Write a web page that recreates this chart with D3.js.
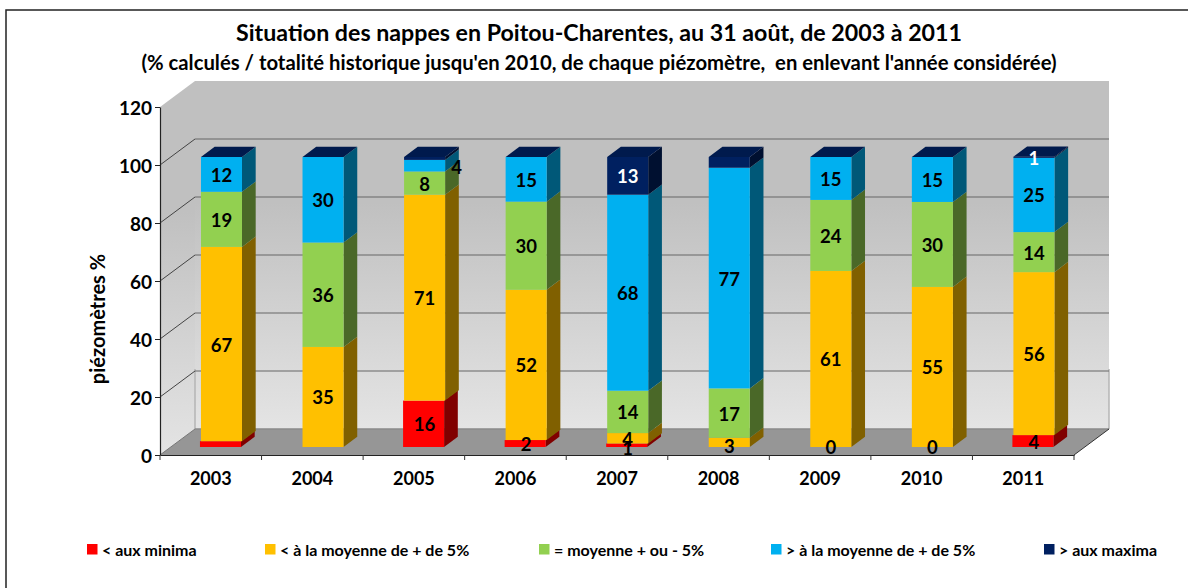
<!DOCTYPE html>
<html>
<head>
<meta charset="utf-8">
<script src="https://cdn.jsdelivr.net/npm/d3@7"></script>
<style>
  body { margin: 0; background: #fff; }
  text { font-family: Lato, "Open Sans", sans-serif; font-weight: 700; fill: #000; white-space: pre; }
</style>
</head>
<body>
<svg width="1188" height="588"></svg>
<script>
// **** data ****
const years = ['2003', '2004', '2005', '2006', '2007', '2008', '2009', '2010', '2011'];
const yTicks = [0, 20, 40, 60, 80, 100, 120];

const minima = [2, 0, 16, 2.4, 1.2, 0, 0, 0, 4.1];
const belowAvg = [67, 34.5, 71, 51.8, 3.6, 3.2, 60.7, 55.2, 56.2];
const nearAvg = [19, 36, 8, 30.4, 14.6, 17, 24.5, 29.3, 13.8];
const aboveAvg = [12, 29.5, 4, 15.4, 67.6, 76.1, 14.8, 15.5, 25.6];
const maxima = [0, 0, 1, 0, 13, 3.7, 0, 0, 0.4];

// labels shown on the bars, null = no label in the original
const minimaLabels = [null, null, 16, 2, 1, null, 0, 0, 4];
const belowLabels = [67, 35, 71, 52, 4, 3, 61, 55, 56];
const nearLabels = [19, 36, 8, 30, 14, 17, 24, 30, 14];
const aboveLabels = [12, 30, 4, 15, 68, 77, 15, 15, 25];
const maximaLabels = [null, null, null, null, 13, null, null, null, 1];

const seriesNames = ['< aux minima', '< à la moyenne de + de 5%', '= moyenne + ou - 5%', '> à la moyenne de + de 5%', '> aux maxima'];
const seriesValues = [minima, belowAvg, nearAvg, aboveAvg, maxima];
const seriesLabels = [minimaLabels, belowLabels, nearLabels, aboveLabels, maximaLabels];
const frontColors = ['#ff0000', '#ffc000', '#92d050', '#00b0f0', '#002060'];
const sideColors = ['#800000', '#806000', '#4a6828', '#005878', '#001030'];
const labelColors = ['#000', '#000', '#000', '#000', '#fff'];

// **** scales ****
const svg = d3.select('svg');

const xScale = d3.scaleBand().domain(years).range([160, 1074]).paddingInner(0.596).paddingOuter(0.298);
const yScale = d3.scaleLinear().domain([0, 120]).range([455, 107]);

// 3D offsets
const wallDx = 35, wallDy = 26;       // from axis plane to back wall
const barDx = 10.7, barDy = 8;        // from axis plane to front of the bars
const sideDx = 13.7, sideDy = 10.3;   // depth of a bar

// **** frame, walls and floor ****
svg.append('rect').attr('x', 6).attr('y', 10).attr('width', 1300).attr('height', 700)
    .attr('fill', '#fff').attr('stroke', '#222').attr('stroke-width', 1.5);

const defs = svg.append('defs');
const wallGrad = defs.append('linearGradient').attr('id', 'wall').attr('x1', 0).attr('y1', 0).attr('x2', 0).attr('y2', 1);
wallGrad.append('stop').attr('offset', '0%').attr('stop-color', '#c0c0c0');
wallGrad.append('stop').attr('offset', '35%').attr('stop-color', '#c0c0c0');
wallGrad.append('stop').attr('offset', '100%').attr('stop-color', '#e4e4e4');

const x0 = xScale.range()[0], x1 = xScale.range()[1];
const yBottom = yScale(0), yTop = yScale(120);

svg.append('rect').attr('x', x0 + wallDx).attr('y', yTop - wallDy)
    .attr('width', x1 - x0).attr('height', yBottom - yTop)
    .attr('fill', 'url(#wall)');

svg.append('path')
    .attr('d', `M${x0},${yBottom}L${x0},${yTop}L${x0 + wallDx},${yTop - wallDy}L${x0 + wallDx},${yBottom - wallDy}Z`)
    .attr('fill', 'url(#wall)');

svg.append('path')
    .attr('d', `M${x0},${yBottom}L${x1},${yBottom}L${x1 + wallDx},${yBottom - wallDy}L${x0 + wallDx},${yBottom - wallDy}Z`)
    .attr('fill', '#969696');

// wall edges
svg.append('line').attr('x1', x0 + wallDx).attr('x2', x0 + wallDx).attr('y1', yBottom - wallDy - 60).attr('y2', yBottom - wallDy)
    .attr('stroke', '#b4b4b4').attr('stroke-width', 1.5);
svg.append('line').attr('x1', x1 + wallDx).attr('x2', x1 + wallDx).attr('y1', yBottom - wallDy - 60).attr('y2', yBottom - wallDy)
    .attr('stroke', '#b4b4b4').attr('stroke-width', 1.5);
svg.append('line').attr('x1', x0 + wallDx).attr('x2', x1 + wallDx).attr('y1', yBottom - wallDy).attr('y2', yBottom - wallDy)
    .attr('stroke', '#8a8a8a').attr('stroke-width', 1.5);
svg.append('line').attr('x1', x1).attr('x2', x1 + wallDx).attr('y1', yBottom).attr('y2', yBottom - wallDy)
    .attr('stroke', '#333');
svg.append('line').attr('x1', x0).attr('x2', x0 + wallDx).attr('y1', yBottom).attr('y2', yBottom - wallDy)
    .attr('stroke', '#777');

// gridlines, back wall then the diagonal on the side wall
yTicks.filter((t) => t > 0 && t < 120).forEach((t) => {
    const gy = yScale(t);
    svg.append('line').attr('x1', x0 + wallDx).attr('x2', x1 + wallDx).attr('y1', gy - wallDy).attr('y2', gy - wallDy)
        .attr('stroke', '#666').attr('stroke-width', 1.2);
    svg.append('line').attr('x1', x0).attr('x2', x0 + wallDx).attr('y1', gy).attr('y2', gy - wallDy)
        .attr('stroke', '#444');
});

// **** bars ****
years.forEach((year, i) => {
    const left = xScale(year) + barDx;
    const w = xScale.bandwidth();
    let base = 0;

    seriesValues.forEach((values, s) => {
        const v = values[i];
        const nudge = s === 0 ? -1 : 0; // red block sits a pixel to the left
        const yb = yScale(base) - barDy;
        const yt = yScale(base + v) - barDy;
        if (v > 0) {
            svg.append('path')
                .attr('d', `M${left + w + nudge},${yb}L${left + w + nudge + sideDx},${yb - sideDy}L${left + w + nudge + sideDx},${yt - sideDy}L${left + w + nudge},${yt}Z`)
                .attr('fill', sideColors[s]);
            svg.append('rect').attr('x', left + nudge).attr('y', yt).attr('width', w).attr('height', yb - yt)
                .attr('fill', frontColors[s]);
        }
        base += v;
    });

    // top face is always navy, even when the maxima are 0
    const yt = yScale(base) - barDy;
    svg.append('path')
        .attr('d', `M${left},${yt}L${left + sideDx},${yt - sideDy}L${left + w + sideDx},${yt - sideDy}L${left + w},${yt}Z`)
        .attr('fill', '#001a4d');
});

// labels go on top of every bar
const labelShift = { '2005-3': [32, 1], '2007-0': [0, 2.5], '2008-1': [0, 3.5], '2006-0': [0, 0] };

years.forEach((year, i) => {
    const cx = xScale(year) + barDx + xScale.bandwidth() / 2;
    let base = 0;
    seriesValues.forEach((values, s) => {
        const v = values[i];
        const label = seriesLabels[s][i];
        if (label !== null) {
            const shift = labelShift[`${year}-${s}`] || [0, 0];
            svg.append('text')
                .attr('x', cx + shift[0])
                .attr('y', yScale(base + v / 2) - barDy + shift[1] + 1)
                .attr('dy', '0.35em')
                .attr('text-anchor', 'middle')
                .style('font-size', '18.5px')
                .style('fill', labelColors[s])
                .text(label);
        }
        base += v;
    });
});

// **** axes ****
const yAxis = svg.append('g').attr('class', 'y axis')
    .attr('transform', `translate(${x0},0)`)
    .call(d3.axisLeft(yScale).tickValues(yTicks).tickSize(5).tickSizeOuter(0).tickPadding(3));
yAxis.selectAll('text').style('font-size', '19px').attr('y', 1.5);
yAxis.selectAll('line').attr('stroke', '#222');
yAxis.select('.domain').attr('stroke', '#222').attr('stroke-width', 1.2);

const xAxis = svg.append('g').attr('class', 'x axis')
    .attr('transform', `translate(0,${yBottom})`)
    .call(d3.axisBottom(xScale).tickSize(0).tickPadding(17));
xAxis.selectAll('text').style('font-size', '18px');
xAxis.select('.domain').attr('stroke', '#222').attr('stroke-width', 1.2);

// ticks sit between the categories, not under them
d3.range(years.length + 1).forEach((k) => {
    const tx = x0 + k * xScale.step();
    xAxis.append('line').attr('x1', tx).attr('x2', tx).attr('y1', 0).attr('y2', 5).attr('stroke', '#333');
});

// **** titles ****
svg.append('text')
    .attr('x', 599).attr('y', 41)
    .attr('text-anchor', 'middle')
    .style('font-size', '23.2px')
    .text("Situation des nappes en Poitou-Charentes, au 31 août, de 2003 à 2011");

svg.append('text')
    .attr('x', 599).attr('y', 70)
    .attr('text-anchor', 'middle')
    .style('font-size', '20.3px')
    .text("(% calculés / totalité historique jusqu'en 2010, de chaque piézomètre,  en enlevant l'année considérée)");

svg.append('text')
    .attr('transform', 'translate(105,319) rotate(-90)')
    .attr('text-anchor', 'middle')
    .style('font-size', '20px')
    .text('piézomètres %');

// **** legend ****
const legendX = [87, 265, 539, 771, 1044];

seriesNames.forEach((name, s) => {
    const g = svg.append('g').attr('transform', `translate(${legendX[s]},544)`);
    g.append('rect').attr('width', 10.5).attr('height', 10.5).attr('fill', frontColors[s]);
    g.append('text')
        .attr('x', 15).attr('y', 12)
        .style('font-size', '16px')
        .text(name);
});
</script>
</body>
</html>
